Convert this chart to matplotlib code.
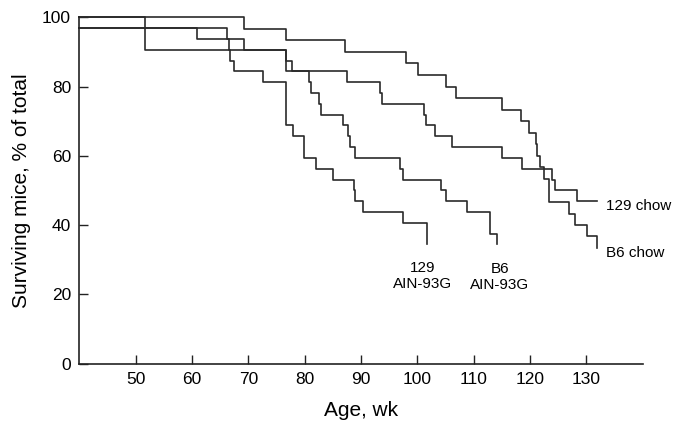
import matplotlib
matplotlib.use("Agg")
import matplotlib.pyplot as plt

plt.rcParams['font.family'] = ['Liberation Sans', 'DejaVu Sans']

#survival curves: week of each step and % surviving after it
b6_chow_wk = [40, 69.2, 76.6, 87.2, 98.0, 100.1, 105.0, 106.9, 115.0, 118.4, 119.8,
              121.0, 121.2, 121.8, 122.4, 123.3, 126.9, 128.0, 130.1, 131.9]
b6_chow_pct = [100, 96.7, 93.3, 90.0, 86.7, 83.3, 80.0, 76.7, 73.3, 70.0, 66.7,
               63.3, 60.0, 56.7, 53.3, 46.7, 43.3, 40.0, 36.7, 33.3]

chow129_wk = [40, 51.65, 76.6, 77.8, 87.5, 93.4, 93.7, 101.1, 101.5, 103.2, 106.1,
              115.0, 118.6, 123.9, 124.5, 128.3, 131.9]
chow129_pct = [100, 90.6, 87.5, 84.4, 81.25, 78.1, 75.0, 71.9, 68.75, 65.6, 62.5,
               59.4, 56.25, 53.1, 50.0, 46.9, 46.9]

b6_ain_wk = [40, 60.8, 69.2, 76.6, 80.7, 81.1, 82.6, 82.9, 86.8, 87.7, 88.0, 89.0,
             96.9, 97.5, 104.2, 105.1, 108.8, 112.9, 114.2]
b6_ain_pct = [96.9, 93.75, 90.6, 84.4, 81.25, 78.1, 75.0, 71.9, 68.75, 65.6, 62.5, 59.4,
              56.25, 53.1, 50.0, 46.9, 43.75, 37.5, 34.4]

ain129_wk = [40, 66.2, 66.5, 66.8, 67.5, 72.6, 76.6, 77.9, 79.9, 82.0, 85.0, 88.7,
             89.0, 90.4, 97.5, 101.7]
ain129_pct = [96.9, 93.75, 90.6, 87.5, 84.4, 81.25, 68.75, 65.6, 59.4, 56.25, 53.1, 50.0,
              46.9, 43.75, 40.6, 34.4]

x_ticks = [50, 60, 70, 80, 90, 100, 110, 120, 130]
y_ticks = [0, 20, 40, 60, 80, 100]

fig = plt.figure(figsize=(6.74, 4.25), dpi=100)
ax = fig.add_axes([0.1178, 0.1447, 0.8358, 0.8146])

line_color = '#2a2a2a'
for wk, pct in [(b6_chow_wk, b6_chow_pct), (chow129_wk, chow129_pct),
                (b6_ain_wk, b6_ain_pct), (ain129_wk, ain129_pct)]:
    ax.step(wk, pct, where='post', color=line_color, linewidth=1.2, clip_on=False)

#curve labels
ax.text(133.55, 45.5, "129 chow", fontsize=11, va='center', ha='left')
ax.text(133.55, 31.9, "B6 chow", fontsize=11, va='center', ha='left')
ax.text(100.9, 25.3, "129\nAIN-93G", fontsize=11, va='center', ha='center', linespacing=1.2)
ax.text(114.6, 24.9, "B6\nAIN-93G", fontsize=11, va='center', ha='center', linespacing=1.2)

ax.set_xlim(40, 140)
ax.set_ylim(0, 100)
ax.set_xticks(x_ticks)
ax.set_yticks(y_ticks)
ax.tick_params(direction='in', length=6.5, width=1, labelsize=12.5, pad=6, color='#222222')

for side in ['top', 'right']:
    ax.spines[side].set_visible(False)
for side in ['left', 'bottom']:
    ax.spines[side].set_linewidth(1.2)
    ax.spines[side].set_color('#222222')

ax.set_xlabel("Age, wk", fontsize=15, labelpad=10)
ax.set_ylabel("Surviving mice, % of total", fontsize=15, labelpad=8)

fig.savefig("out.png", dpi=100)
